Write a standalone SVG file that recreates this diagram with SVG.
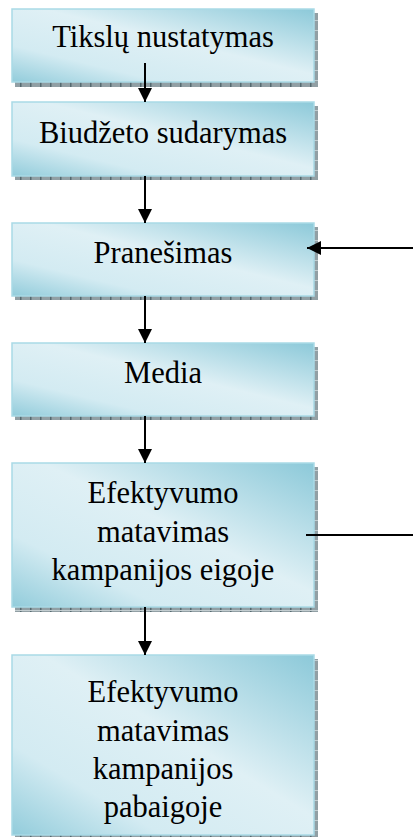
<svg xmlns="http://www.w3.org/2000/svg" width="413" height="837" viewBox="0 0 413 837">
<defs>
<linearGradient id="fillG" x1="1" y1="0" x2="0" y2="1">
<stop offset="0" stop-color="#8cc9d9"/>
<stop offset="0.45" stop-color="#dff0f5"/>
<stop offset="0.75" stop-color="#d3ebf2"/>
<stop offset="1" stop-color="#92ccdb"/>
</linearGradient>
<pattern id="hatch" width="10" height="10" patternUnits="userSpaceOnUse">
<rect width="10" height="10" fill="#919fa4"/>
<rect x="0" y="0" width="1.5" height="10" fill="#566a70"/>
<rect x="0" y="0" width="10" height="1" fill="#c3cdd0"/>
</pattern>
<marker id="ah" viewBox="0 0 14 14" refX="14" refY="7" markerWidth="14" markerHeight="14" markerUnits="userSpaceOnUse" orient="auto">
<path d="M0,0 L14,7 L0,14 Z" fill="#000"/>
</marker>
</defs>
<style>
.shadow{fill:url(#hatch);}
.box{fill:url(#fillG);stroke:#a9dae6;stroke-width:1.5;}
.lbl{font-family:"Liberation Serif","Times New Roman",serif;font-size:30.5px;fill:#000;text-anchor:middle;}
.conn{stroke:#000;stroke-width:2;fill:none;}
</style>
<g id="node-tikslu">
<rect class="shadow" x="15" y="13" width="303" height="74"/>
<rect class="box" x="12" y="9" width="302" height="73"/>
<text class="lbl" x="163" y="47">Tikslų nustatymas</text>
</g>
<g id="node-biudzeto">
<rect class="shadow" x="15" y="106" width="303" height="74"/>
<rect class="box" x="12" y="102" width="302" height="74"/>
<text class="lbl" x="163" y="143">Biudžeto sudarymas</text>
</g>
<g id="node-pranesimas">
<rect class="shadow" x="15" y="227" width="303" height="73"/>
<rect class="box" x="12" y="223" width="302" height="73"/>
<text class="lbl" x="163" y="263">Pranešimas</text>
</g>
<g id="node-media">
<rect class="shadow" x="15" y="347" width="303" height="73"/>
<rect class="box" x="12" y="343" width="302" height="73"/>
<text class="lbl" x="163" y="383">Media</text>
</g>
<g id="node-efekt-eigoje">
<rect class="shadow" x="15" y="467" width="303" height="145"/>
<rect class="box" x="12" y="463" width="302" height="144"/>
<text class="lbl" x="163" y="503">Efektyvumo</text>
<text class="lbl" x="163" y="542">matavimas</text>
<text class="lbl" x="163" y="580">kampanijos eigoje</text>
</g>
<g id="node-efekt-pabaigoje">
<rect class="shadow" x="15" y="659" width="303" height="180"/>
<rect class="box" x="12" y="655" width="302" height="180"/>
<text class="lbl" x="163" y="702">Efektyvumo</text>
<text class="lbl" x="163" y="741">matavimas</text>
<text class="lbl" x="163" y="779">kampanijos</text>
<text class="lbl" x="163" y="817">pabaigoje</text>
</g>
<g id="connectors">
<line class="conn" x1="145" y1="63" x2="145" y2="102" marker-end="url(#ah)"/>
<line class="conn" x1="145" y1="176" x2="145" y2="223" marker-end="url(#ah)"/>
<line class="conn" x1="145" y1="296" x2="145" y2="343" marker-end="url(#ah)"/>
<line class="conn" x1="145" y1="416" x2="145" y2="463" marker-end="url(#ah)"/>
<line class="conn" x1="145" y1="607" x2="145" y2="655" marker-end="url(#ah)"/>
<line class="conn" x1="413" y1="248" x2="307" y2="248" marker-end="url(#ah)"/>
<line class="conn" x1="306" y1="535" x2="413" y2="535"/>
</g>
</svg>
